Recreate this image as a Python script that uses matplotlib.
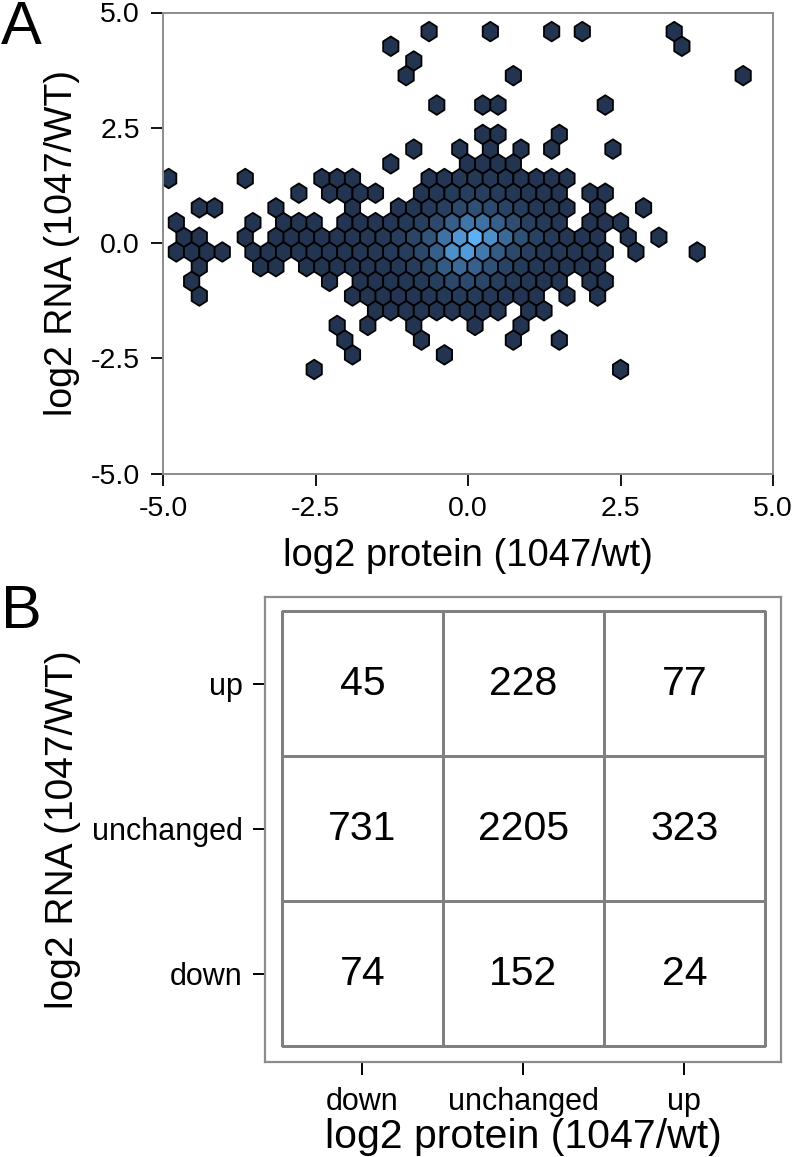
import numpy as np
import matplotlib
matplotlib.use('Agg')
import matplotlib.pyplot as plt
from matplotlib.colors import LinearSegmentedColormap, Normalize, ListedColormap

plt.rcParams['font.family'] = ['Liberation Sans', 'DejaVu Sans']
plt.rcParams['axes.unicode_minus'] = False

# ---------------- Panel A data: hexagonal bins ----------------
# bin lattice (data units): half-column step along protein, row step along RNA
x_bin0 = -4.907
x_half = 0.12557
y_bin0 = 0.124
y_row = 0.3187

hex_row_index = [14, 13, 12, 11, 9, 7, 6, 5, 4, 3, 2, 1, 0, -1, -2, -3, -4, -5, -6, -7, -8, -9]
hex_cols = [
    [34, 42, 50, 54, 66],
    [29, 67],
    [32],
    [31, 45, 75],
    [35, 41, 43, 57],
    [41, 43, 51],
    [32, 38, 42, 46, 50, 58],
    [29, 39, 41, 43, 45],
    [0, 10, 20, 22, 24, 34, 36, 38, 40, 42, 44, 46, 48, 50, 52],
    [17, 21, 23, 25, 27, 33, 35, 37, 39, 41, 43, 45, 47, 49, 51, 55, 57],
    [4, 6, 14, 24, 30, 32, 34, 36, 38, 40, 42, 44, 46, 48, 50, 52, 56, 62],
    [1, 11, 15, 17, 19, 23, 25, 27, 29, 31, 33, 35, 37, 39, 41, 43, 45, 47, 49, 51, 55, 57, 59],
    [2, 4, 10, 14, 16, 18, 20, 22, 24, 26, 28, 30, 32, 34, 36, 38, 40, 42, 44, 46, 48, 50, 52, 54, 56, 60, 64],
    [1, 3, 5, 7, 11, 13, 15, 17, 19, 21, 23, 25, 27, 29, 31, 33, 35, 37, 39, 41, 43, 45, 47, 49, 51, 53, 55, 57, 61, 69],
    [4, 12, 14, 18, 20, 22, 24, 26, 28, 30, 32, 34, 36, 38, 40, 42, 44, 46, 48, 50, 52, 54, 56],
    [3, 21, 25, 27, 29, 31, 33, 35, 37, 39, 41, 43, 45, 47, 49, 51, 55, 57],
    [4, 24, 26, 28, 30, 32, 34, 36, 38, 40, 42, 44, 46, 48, 52, 56],
    [27, 29, 31, 33, 35, 37, 39, 41, 43, 47, 49],
    [22, 26, 32, 40, 46],
    [23, 33, 45, 51],
    [24, 36],
    [19, 59],
]
hex_counts = [
    [1, 1, 1, 1, 1],
    [1, 1],
    [1],
    [1, 1, 1],
    [1, 1, 1, 1],
    [1, 1, 1],
    [1, 1, 1, 1, 1, 1],
    [1, 2, 3, 2, 1],
    [1, 1, 1, 1, 1, 2, 4, 6, 8, 7, 5, 3, 2, 2, 1],
    [1, 1, 1, 1, 1, 3, 6, 11, 16, 15, 11, 7, 4, 3, 2, 1, 1],
    [1, 1, 1, 1, 3, 5, 10, 18, 30, 38, 32, 22, 13, 7, 4, 2, 1, 1],
    [1, 1, 1, 1, 1, 2, 2, 3, 5, 8, 15, 30, 58, 90, 84, 60, 35, 18, 9, 4, 1, 1, 1],
    [1, 1, 1, 1, 2, 2, 3, 3, 4, 6, 9, 14, 24, 45, 85, 135, 170, 125, 75, 40, 20, 10, 5, 3, 2, 1, 1],
    [1, 1, 1, 1, 1, 1, 2, 2, 2, 3, 3, 4, 6, 9, 14, 28, 60, 125, 140, 95, 55, 30, 15, 8, 4, 3, 2, 1, 1, 1],
    [1, 1, 1, 1, 1, 2, 2, 3, 4, 6, 12, 25, 55, 75, 62, 40, 22, 11, 6, 4, 2, 1, 1],
    [1, 1, 1, 2, 2, 4, 8, 16, 28, 32, 24, 14, 8, 4, 2, 1, 1, 1],
    [1, 1, 1, 1, 2, 3, 5, 8, 11, 10, 6, 4, 2, 1, 1, 1],
    [1, 1, 1, 2, 2, 3, 4, 3, 1, 1, 1],
    [1, 1, 1, 1, 1],
    [1, 1, 1, 1],
    [1, 1],
    [1, 1],
]

axis_ticks_A = [-5.0, -2.5, 0.0, 2.5, 5.0]
tick_labels_A = ['-5.0', '-2.5', '0.0', '2.5', '5.0']

# ---------------- Panel B data: 3x3 contingency table ----------------
protein_cats = ['down', 'unchanged', 'up']
rna_cats = ['down', 'unchanged', 'up']
table_counts = [
    [74, 152, 24],      # RNA down
    [731, 2205, 323],   # RNA unchanged
    [45, 228, 77],      # RNA up
]

# ---------------- Figure ----------------
W, H = 797, 1157
fig = plt.figure(figsize=(W / 100, H / 100), dpi=100)

def px_axes(l, t, r, b):
    return fig.add_axes([l / W, 1 - b / H, (r - l) / W, (b - t) / H])

spine_gray = '#8c8c8c'

# ---- Panel A ----
axA = px_axes(163, 12.5, 773, 473.5)
xs, ys, cs = [], [], []
for r, cols, cnts in zip(hex_row_index, hex_cols, hex_counts):
    for c, n in zip(cols, cnts):
        xs.append(x_bin0 + c * x_half)
        ys.append(y_bin0 + r * y_row)
        cs.append(n)

sx, sy = 2 * x_half, 2 * y_row
nx, ny = 38, 13
xmin = x_bin0
ymin = y_bin0 - 10 * y_row
extent = (xmin, xmin + nx * sx, ymin, ymin + ny * sy)
cmap = LinearSegmentedColormap.from_list('gg', ['#223450', '#5cb0f5'])
axA.hexbin(xs, ys, C=cs, reduce_C_function=np.sum, gridsize=(nx, ny),
           extent=extent, cmap=cmap, norm=Normalize(vmin=1, vmax=max(cs)),
           edgecolors='black', linewidths=1.3)
axA.set_xlim(-5, 5)
axA.set_ylim(-5, 5)
axA.set_xticks(axis_ticks_A)
axA.set_xticklabels(tick_labels_A)
axA.set_yticks(axis_ticks_A)
axA.set_yticklabels(tick_labels_A)
for s in axA.spines.values():
    s.set_color(spine_gray)
    s.set_linewidth(1.4)
axA.tick_params(axis='both', direction='out', length=8.5, width=1.3,
                color='black', labelsize=20.5, pad=8, labelcolor='black')
axA.set_xlabel('log2 protein (1047/wt)', fontsize=27.5)
axA.set_ylabel('log2 RNA (1047/WT)', fontsize=27)
axA.xaxis.label.set_va('center')
axA.yaxis.label.set_va('center')
axA.xaxis.set_label_coords(0.5, -0.178)
axA.yaxis.set_label_coords(-0.166, 0.5)

fig.text(1 / W, 1 - 28 / H, 'A', fontsize=44, va='center', ha='left')

# ---- Panel B ----
axB = px_axes(265, 597, 781, 1062)
edges = np.arange(0.5, 3.6, 1.0)
axB.pcolormesh(edges, edges, np.array(table_counts), cmap=ListedColormap(['white']),
               edgecolors='#808080', linewidth=0.9)
for i in range(3):
    for j in range(3):
        axB.text(j + 1, i + 1, str(table_counts[i][j]), ha='center', va='center',
                 fontsize=29.5)
axB.set_xlim(0.5 - 0.105, 3.5 + 0.1)
axB.set_ylim(0.5 - 0.11, 3.5 + 0.097)
axB.set_xticks([1, 2, 3])
axB.set_xticklabels(protein_cats)
axB.set_yticks([1, 2, 3])
axB.set_yticklabels(rna_cats)
for s in axB.spines.values():
    s.set_color(spine_gray)
    s.set_linewidth(1.6)
axB.tick_params(axis='both', direction='out', length=9, width=1.4,
                color='black', labelsize=22, pad=7, labelcolor='black')
axB.tick_params(axis='x', pad=9)
axB.set_xlabel('log2 protein (1047/wt)', fontsize=29.5)
axB.set_ylabel('log2 RNA (1047/WT)', fontsize=28)
axB.xaxis.label.set_va('center')
axB.yaxis.label.set_va('center')
axB.xaxis.set_label_coords(0.5, -0.161)
axB.yaxis.set_label_coords(-0.391, 0.5)

fig.text(1 / W, 1 - 612 / H, 'B', fontsize=44, va='center', ha='left')

fig.savefig('out.png', dpi=100, facecolor='white')
